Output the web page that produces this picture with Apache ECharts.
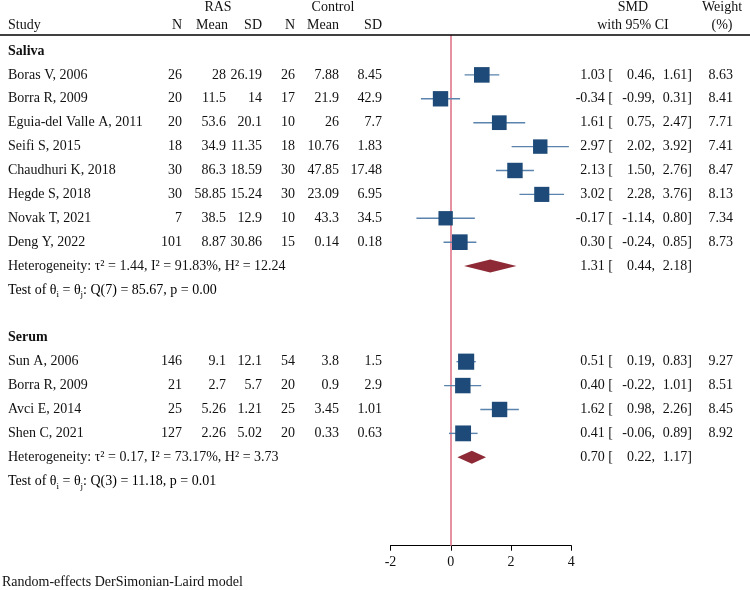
<!DOCTYPE html>
<html>
<head>
<meta charset="utf-8">
<script src="https://cdn.jsdelivr.net/npm/echarts@6/dist/echarts.min.js"></script>
<style>html,body{margin:0;padding:0;background:#fff}#c{width:750px;height:590px}</style>
</head>
<body>
<div id="c"></div>
<script>
// ---- data ----
var groups = ['Saliva', 'Serum'];
var studies = ['Boras V, 2006','Borra R, 2009','Eguia-del Valle A, 2011','Seifi S, 2015','Chaudhuri K, 2018','Hegde S, 2018','Novak T, 2021','Deng Y, 2022','Sun A, 2006','Borra R, 2009','Avci E, 2014','Shen C, 2021'];
var studyGroup = [0,0,0,0,0,0,0,0,1,1,1,1];
var rasN = [26,20,20,18,30,30,7,101,146,21,25,127];
var rasMean = [28,11.5,53.6,34.9,86.3,58.85,38.5,8.87,9.1,2.7,5.26,2.26];
var rasSD = [26.19,14,20.1,11.35,18.59,15.24,12.9,30.86,12.1,5.7,1.21,5.02];
var ctrlN = [26,17,10,18,30,30,10,15,54,20,25,20];
var ctrlMean = [7.88,21.9,26,10.76,47.85,23.09,43.3,0.14,3.8,0.9,3.45,0.33];
var ctrlSD = [8.45,42.9,7.7,1.83,17.48,6.95,34.5,0.18,1.5,2.9,1.01,0.63];
var smd = [1.03,-0.34,1.61,2.97,2.13,3.02,-0.17,0.30,0.51,0.40,1.62,0.41];
var ciLo = [0.46,-0.99,0.75,2.02,1.50,2.28,-1.14,-0.24,0.19,-0.22,0.98,-0.06];
var ciHi = [1.61,0.31,2.47,3.92,2.76,3.76,0.80,0.85,0.83,1.01,2.26,0.89];
var weight = [8.63,8.41,7.71,7.41,8.47,8.13,7.34,8.73,9.27,8.51,8.45,8.92];
var pooledSMD = [1.31,0.70];
var pooledLo = [0.44,0.22];
var pooledHi = [2.18,1.17];
var tau2 = ['1.44','0.17'];
var I2 = ['91.83','73.17'];
var H2 = ['12.24','3.73'];
var Qdf = [7,3];
var Qval = ['85.67','11.18'];
var pVal = ['0.00','0.01'];
var xTicks = [-2, 0, 2, 4];

// ---- layout of rows ----
var rows = []; // {row, kind, idx}
var r = 0;
groups.forEach(function (g, gi) {
  rows.push({row: r++, kind: 'group', idx: gi});
  studies.forEach(function (s, si) {
    if (studyGroup[si] === gi) rows.push({row: r++, kind: 'study', idx: si});
  });
  rows.push({row: r++, kind: 'het', idx: gi});
  rows.push({row: r++, kind: 'test', idx: gi});
  r++; // blank row
});
var studyRow = {}, pooledRow = {};
rows.forEach(function (o) {
  if (o.kind === 'study') studyRow[o.idx] = o.row;
  if (o.kind === 'het') pooledRow[o.idx] = o.row;
});

var FONT = "'Liberation Serif', 'Times New Roman', serif";
var FS = 14;
var INK = '#111';

function f2(v) { return v.toFixed(2); }
function txt(text, x, y, align, extra) {
  var st = {text: text, x: x, y: y, align: align || 'left', verticalAlign: 'middle',
    fontFamily: FONT, fontSize: FS, fill: INK};
  if (extra) for (var k in extra) st[k] = extra[k];
  return {type: 'text', silent: true, style: st};
}

var subRich = {
  a: {fontFamily: FONT, fontSize: FS, color: INK, lineHeight: 16, verticalAlign: 'middle'},
  s: {fontFamily: FONT, fontSize: 9, color: INK, lineHeight: 19, verticalAlign: 'bottom'}
};

function renderTable(params, api) {
  var o = rows[params.dataIndex];
  var y = api.coord([0, o.row])[1];
  var ch = [];
  if (o.kind === 'group') {
    ch.push(txt(groups[o.idx], 8, y, 'left', {fontWeight: 'bold'}));
  } else if (o.kind === 'study') {
    var i = o.idx;
    ch.push(txt(studies[i], 8, y, 'left'));
    ch.push(txt(String(rasN[i]), 182, y, 'right'));
    ch.push(txt(String(rasMean[i]), 226, y, 'right'));
    ch.push(txt(String(rasSD[i]), 262, y, 'right'));
    ch.push(txt(String(ctrlN[i]), 295, y, 'right'));
    ch.push(txt(String(ctrlMean[i]), 339, y, 'right'));
    ch.push(txt(String(ctrlSD[i]), 382, y, 'right'));
    ch.push(txt(f2(smd[i]) + ' [', 613, y, 'right'));
    ch.push(txt(f2(ciLo[i]) + ',', 655, y, 'right'));
    ch.push(txt(f2(ciHi[i]) + ']', 692, y, 'right'));
    ch.push(txt(f2(weight[i]), 733, y, 'right'));
  } else if (o.kind === 'het') {
    var g = o.idx;
    ch.push(txt('Heterogeneity: \u03c4\u00b2 = ' + tau2[g] + ', I\u00b2 = ' + I2[g] + '%, H\u00b2 = ' + H2[g], 8, y, 'left'));
    ch.push(txt(f2(pooledSMD[g]) + ' [', 613, y, 'right'));
    ch.push(txt(f2(pooledLo[g]) + ',', 655, y, 'right'));
    ch.push(txt(f2(pooledHi[g]) + ']', 692, y, 'right'));
  } else if (o.kind === 'test') {
    var g2 = o.idx;
    ch.push({type: 'text', silent: true, style: {
      text: '{a|Test of \u03b8}{s|i}{a| = \u03b8}{s|j}{a|: Q(' + Qdf[g2] + ') = ' + Qval[g2] + ', p = ' + pVal[g2] + '}',
      rich: subRich, x: 8, y: y, align: 'left', verticalAlign: 'middle'}});
  }
  return {type: 'group', children: ch};
}

function renderStudy(params, api) {
  var row = api.value(1);
  var c = api.coord([api.value(0), row]);
  var a = api.coord([api.value(2), row]);
  var b = api.coord([api.value(3), row]);
  var side = 5.3 * Math.sqrt(api.value(4));
  return {type: 'group', children: [
    {type: 'line', shape: {x1: a[0], y1: a[1], x2: b[0], y2: b[1]},
      style: {stroke: '#5a83ad', lineWidth: 1.4}},
    {type: 'rect', shape: {x: c[0] - side / 2, y: c[1] - side / 2, width: side, height: side},
      style: {fill: '#1d4a78'}}
  ]};
}

function renderDiamond(params, api) {
  var row = api.value(1);
  var c = api.coord([api.value(0), row]);
  var a = api.coord([api.value(2), row]);
  var b = api.coord([api.value(3), row]);
  var h = 6.5;
  return {type: 'polygon', shape: {points: [[a[0], a[1]], [c[0], c[1] - h], [b[0], b[1]], [c[0], c[1] + h]]},
    style: {fill: '#8e2a36'}};
}

var studyData = smd.map(function (v, i) { return [v, studyRow[i], ciLo[i], ciHi[i], weight[i]]; });
var pooledData = pooledSMD.map(function (v, g) { return [v, pooledRow[g], pooledLo[g], pooledHi[g]]; });
var tableData = rows.map(function (o) { return [0, o.row]; });

var headerY1 = 7, headerY2 = 25;
var chart = echarts.init(document.getElementById('c'), null, {renderer: 'canvas'});
chart.setOption({
  animation: false,
  backgroundColor: '#fff',
  grid: {left: 390.5, right: 178.7, top: 35, bottom: 44.3, containLabel: false},
  xAxis: {
    type: 'value', min: xTicks[0], max: xTicks[xTicks.length - 1], interval: 2,
    position: 'bottom',
    splitLine: {show: false},
    axisLine: {show: true, onZero: false, lineStyle: {color: '#000', width: 1}},
    axisTick: {show: true, length: 5, lineStyle: {color: '#000', width: 1}},
    axisLabel: {color: INK, fontFamily: FONT, fontSize: FS, margin: 10}
  },
  yAxis: {type: 'value', inverse: true, min: -0.669, max: 20.70, show: false},
  graphic: [
    {type: 'line', shape: {x1: 0, y1: 35, x2: 750, y2: 35}, style: {stroke: '#000', lineWidth: 1.3}, z: 10},
    txt('RAS', 218, headerY1, 'center'),
    txt('Control', 333, headerY1, 'center'),
    txt('SMD', 633, headerY1, 'center'),
    txt('Weight', 722, headerY1, 'center'),
    txt('Study', 8, headerY2, 'left'),
    txt('N', 182, headerY2, 'right'),
    txt('Mean', 228, headerY2, 'right'),
    txt('SD', 262, headerY2, 'right'),
    txt('N', 295, headerY2, 'right'),
    txt('Mean', 339, headerY2, 'right'),
    txt('SD', 382, headerY2, 'right'),
    txt('with 95% CI', 633, headerY2, 'center'),
    txt('(%)', 722, headerY2, 'center'),
    txt('Random-effects DerSimonian-Laird model', 2, 582, 'left')
  ],
  series: [
    {type: 'custom', name: 'table', data: tableData, renderItem: renderTable, clip: false, silent: true, z: 3},
    {type: 'custom', name: 'studies', data: studyData, renderItem: renderStudy, clip: false, z: 5,
      encode: {x: 0, y: 1},
      markLine: {silent: true, symbol: 'none', label: {show: false},
        lineStyle: {color: '#e0758a', width: 1.6, type: 'solid'},
        data: [{xAxis: 0}]}},
    {type: 'custom', name: 'pooled', data: pooledData, renderItem: renderDiamond, clip: false, z: 5,
      encode: {x: 0, y: 1}}
  ]
});
</script>
</body>
</html>
